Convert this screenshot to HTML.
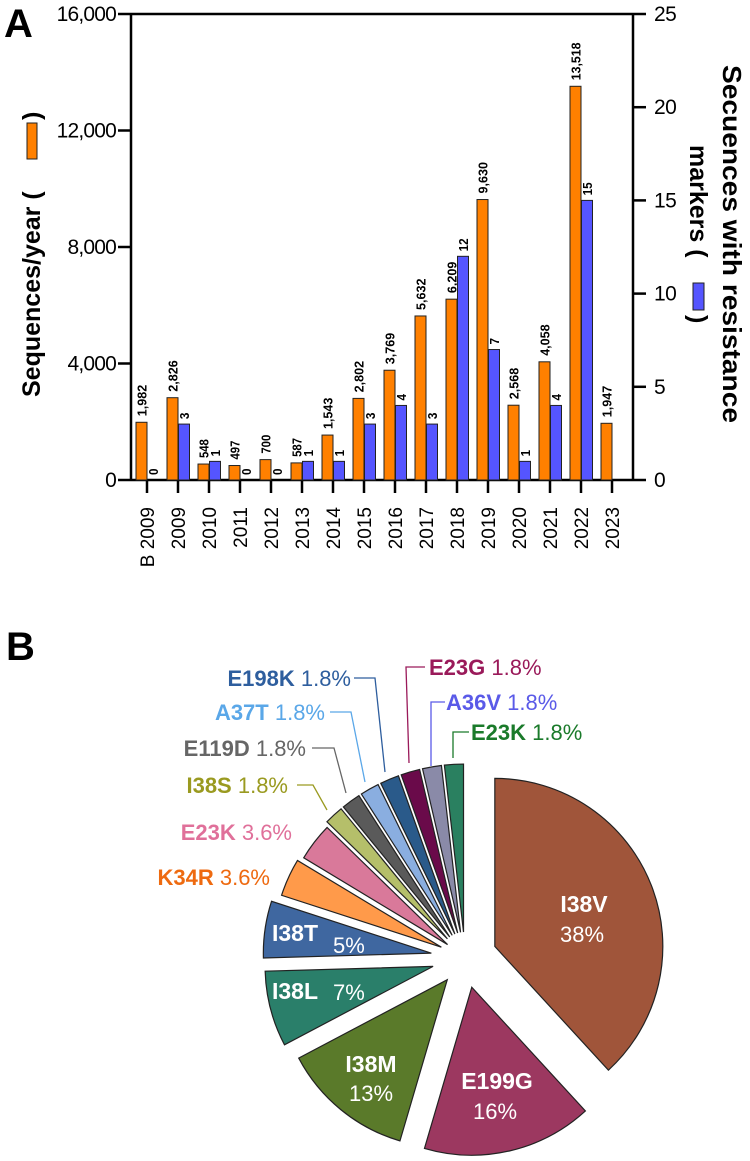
<!DOCTYPE html>
<html><head><meta charset="utf-8"><style>
body{margin:0;background:#fff;}
svg{display:block;font-family:"Liberation Sans",sans-serif;}
</style></head><body>
<svg id="fig" width="750" height="1161" viewBox="0 0 750 1161">
<text x="4" y="37" font-size="40" font-weight="bold">A</text>
<text x="6" y="660" font-size="40" font-weight="bold">B</text>
<g id="bar"></g>
<g id="pie"></g>
</svg>
<script>
const NS="http://www.w3.org/2000/svg";
const categories=["B 2009","2009","2010","2011","2012","2013","2014","2015","2016","2017","2018","2019","2020","2021","2022","2023"];
const seqValues=[1982,2826,548,497,700,587,1543,2802,3769,5632,6209,9630,2568,4058,13518,1947];
const markerValues=[0,3,1,0,0,1,1,3,4,3,12,7,1,4,15,null];
const leftTicks=[0,4000,8000,12000,16000];
const rightTicks=[0,5,10,15,20,25];
const pieLabels=["I38V","E199G","I38M","I38L","I38T","K34R","E23K","I38S","E119D","A37T","E198K","E23G","A36V","E23K"];
const pieCounts=[21,9,7,4,3,2,2,1,1,1,1,1,1,1];
const piePct=["38%","16%","13%","7%","5%","3.6%","3.6%","1.8%","1.8%","1.8%","1.8%","1.8%","1.8%","1.8%"];

function mk(tag,attrs,parent,txt){const e=document.createElementNS(NS,tag);for(const k in attrs)e.setAttribute(k,attrs[k]);if(txt!==undefined)e.textContent=txt;parent.appendChild(e);return e;}
const fmt=v=>v.toLocaleString("en-US");

// ---- bar chart
const bar=document.getElementById("bar");
const X0=131,X1=633,YT=14,YB=480,cx0=147,step=31.0,bw=11;
const yL=v=>YB-(v/16000)*(YB-YT);
const yR=v=>YB-(v/25)*(YB-YT);
const xC=i=>cx0+i*step;
let e;
e=mk("line",{x1:X0,y1:YT,x2:X0,y2:YB,stroke:"#000","stroke-width":2.5},bar);

e=mk("line",{x1:X1,y1:YT,x2:X1,y2:YB,stroke:"#000","stroke-width":2.5},bar);

e=mk("line",{x1:X0,y1:YB,x2:X1,y2:YB,stroke:"#000","stroke-width":2.5},bar);

e=mk("line",{x1:X0,y1:YT,x2:X1,y2:YT,stroke:"#000","stroke-width":2.5},bar);

leftTicks.forEach(t=>{
  const l=mk("line",{x1:X0-13,y1:yL(t),x2:X0,y2:yL(t),stroke:"#000","stroke-width":2.5},bar);
  
  const tx=mk("text",{x:X0-15,y:yL(t)+7,"font-size":21,"text-anchor":"end","letter-spacing":"-0.8"},bar,fmt(t));
  
});
rightTicks.forEach(t=>{
  const l=mk("line",{x1:X1,y1:yR(t),x2:X1+13,y2:yR(t),stroke:"#000","stroke-width":2.5},bar);
  
  const tx=mk("text",{x:X1+21,y:yR(t)+7,"font-size":21,"letter-spacing":"-0.5"},bar,String(t));
  
});
categories.forEach((c,i)=>{
  const x=xC(i);
  const l=mk("line",{x1:x,y1:YB,x2:x,y2:YB+13,stroke:"#000","stroke-width":2.5},bar);
  
  const tx=mk("text",{x:0,y:0,"font-size":19,"text-anchor":"end",transform:`translate(${x+7},${YB+27}) rotate(-90)`},bar,c);
  
  const v=seqValues[i];
  const r=mk("rect",{x:x-bw,y:yL(v),width:bw,height:YB-yL(v),fill:"#ff8000",stroke:"#222","stroke-width":1},bar);
  
  const s=fmt(v);
  const vl=mk("text",{x:0,y:0,"font-size":13,"font-weight":"bold",textLength:s.length*6.3,lengthAdjust:"spacingAndGlyphs",transform:`translate(${x-bw/2+5},${yL(v)-6}) rotate(-90)`},bar,s);
  
  const m=markerValues[i];
  if(m!==null){
    if(m>0){
      const b=mk("rect",{x:x+0.5,y:yR(m),width:bw,height:YB-yR(m),fill:"#5555ff",stroke:"#222","stroke-width":1},bar);
      
    }
    const ms=String(m);
    const ml=mk("text",{x:0,y:0,"font-size":13,"font-weight":"bold",textLength:ms.length*6.5,lengthAdjust:"spacingAndGlyphs",transform:`translate(${x+bw/2+5.5},${yR(m)-5}) rotate(-90)`},bar,ms);
    
  }
});
// axis titles
e=mk("text",{x:0,y:0,"font-size":25,"font-weight":"bold","text-anchor":"start",transform:"translate(40,397) rotate(-90)"},bar,"Sequences/year (");

e=mk("rect",{x:27,y:123,width:10,height:36,fill:"#ff8000",stroke:"#222","stroke-width":1},bar);

e=mk("text",{x:0,y:0,"font-size":25,"font-weight":"bold",transform:"translate(40,120) rotate(-90)"},bar,")");

e=mk("text",{x:0,y:0,"font-size":26,"font-weight":"bold","text-anchor":"start",textLength:358,lengthAdjust:"spacingAndGlyphs",transform:"translate(723,65) rotate(90)"},bar,"Secuences with resistance");

e=mk("text",{x:0,y:0,"font-size":25,"font-weight":"bold","text-anchor":"start",transform:"translate(690,145) rotate(90)"},bar,"markers (");

e=mk("rect",{x:693,y:283,width:11,height:27,fill:"#5555ff",stroke:"#222","stroke-width":1},bar);

e=mk("text",{x:0,y:0,"font-size":25,"font-weight":"bold",transform:"translate(690,315) rotate(90)"},bar,")");


// ---- pie
const pie=document.getElementById("pie");
const colors=["#a0553a","#9c3860","#5a7a2a","#2a7f6a","#3f67a0","#ff9a4a","#d9799a","#b5bf6a","#5a5a5a","#8aaee0","#2a5a8a","#6a0a4a","#8a8aa8","#2a8060"];
const offs=[32,30,28,33,34,26,22,26,26,26,26,26,26,26];
const CX=465,CY=958,R=168;
const total=pieCounts.reduce((a,b)=>a+b,0);
let a0=0;
const pt=(ang,rad,ox,oy)=>[ox+rad*Math.sin(ang),oy-rad*Math.cos(ang)];
pieCounts.forEach((n,i)=>{
  const a1=a0+n/total*2*Math.PI, am=(a0+a1)/2;
  const ox=CX+offs[i]*Math.sin(am), oy=CY-offs[i]*Math.cos(am);
  const p0=pt(a0,R,ox,oy),p1=pt(a1,R,ox,oy);
  const large=(a1-a0)>Math.PI?1:0;
  const p=mk("path",{d:`M${ox},${oy}L${p0[0]},${p0[1]}A${R},${R} 0 ${large} 1 ${p1[0]},${p1[1]}Z`,fill:colors[i],stroke:"#222","stroke-width":1.2},pie);
  
  
  a0=a1;
});
// inside labels
const inside=[[0,584,912,582,942],[1,497,1089,495,1119],[2,371,1072,371,1101]];
inside.forEach(([i,x,y,x2,y2])=>{
  const t=mk("text",{x:x,y:y,"font-size":23,"font-weight":"bold",fill:"#fff","text-anchor":"middle"},pie,pieLabels[i]);
  
  const u=mk("text",{x:x2,y:y2,"font-size":22,fill:"#fff","text-anchor":"middle"},pie,piePct[i]);
  
});
[[3,272,999,333,1000],[4,272,941,333,953]].forEach(([i,x,y,x2,y2])=>{
  const t=mk("text",{x:x,y:y,"font-size":23,"font-weight":"bold",fill:"#fff"},pie,pieLabels[i]);
  
  const u=mk("text",{x:x2,y:y2,"font-size":22,fill:"#fff"},pie,piePct[i]);
  
});
const outside=[
 [5,270,885,"#ee6a10","end",null],
 [6,292,840,"#e0709a","end",null],
 [7,288,793,"#9a9a20","end","M297,785 L313,785 L327,810"],
 [8,306,756,"#666666","end","M312,748 L334,748 L346,793"],
 [9,325,720,"#5aa7e8","end","M330,712 L351,712 L365,782"],
 [10,351,686,"#2e5e9e","end","M354,678 L375,678 L385,772"],
 [11,429,675,"#9a1a5a","start","M425,667 L406,667 L409,763"],
 [12,446,710,"#5a5ae8","start","M445,702 L431,702 L431,766"],
 [13,471,740,"#1a7a2a","start","M469,732 L453,732 L453,758"]
];
outside.forEach(([i,x,y,col,anc,path])=>{
  const t=mk("text",{x:x,y:y,"font-size":22,fill:col,"text-anchor":anc},pie);
  
  
  mk("tspan",{"font-weight":"bold"},t,pieLabels[i]);
  mk("tspan",{},t," "+piePct[i]);
  if(path){
    const l=mk("path",{d:path,fill:"none",stroke:col,"stroke-width":1.3},pie);
    
  }
});
</script>
</body></html>
